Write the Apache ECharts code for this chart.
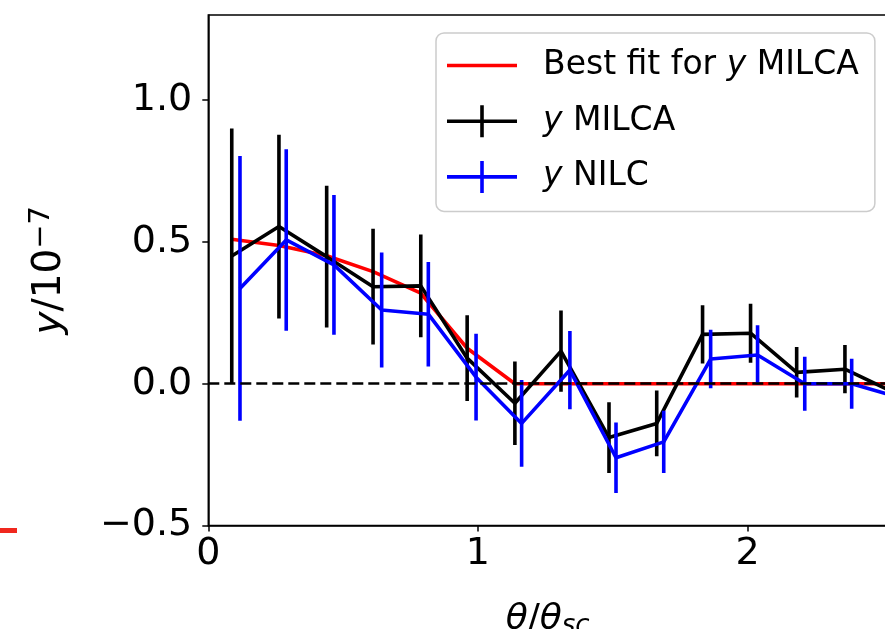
<!DOCTYPE html>
<html>
<head>
<meta charset="utf-8">
<script src="https://cdn.jsdelivr.net/npm/echarts@6/dist/echarts.min.js"></script>
<style>
  html, body { margin: 0; padding: 0; background: #fff; }
  #chart { width: 885px; height: 629px; }
</style>
</head>
<body>
<div id="chart"></div>
<script>
// Radial profile of the y signal in units of 1e-7, versus theta / theta_sc.
const xMilca   = [0.087, 0.262, 0.439, 0.611, 0.788, 0.960, 1.137, 1.308, 1.486, 1.663, 1.833, 2.011, 2.182, 2.361, 2.536];
const yMilca   = [0.450, 0.554, 0.448, 0.342, 0.345, 0.090, -0.069, 0.115, -0.190, -0.140, 0.174, 0.178, 0.040, 0.051, -0.028];
const errMilca = [0.450, 0.324, 0.250, 0.204, 0.181, 0.151, 0.147, 0.143, 0.125, 0.116, 0.103, 0.104, 0.089, 0.085, 0.080];

const xNilc    = [0.1175, 0.289, 0.466, 0.643, 0.816, 0.993, 1.162, 1.341, 1.512, 1.689, 1.863, 2.037, 2.212, 2.386, 2.561];
const yNilc    = [0.336, 0.507, 0.419, 0.260, 0.245, 0.023, -0.140, 0.048, -0.261, -0.205, 0.087, 0.101, 0.000, 0.000, -0.048];
const errNilc  = [0.467, 0.320, 0.246, 0.203, 0.184, 0.153, 0.153, 0.138, 0.124, 0.110, 0.103, 0.105, 0.095, 0.088, 0.080];

// Best-fit model evaluated at the MILCA bin centres
const yFit     = [0.509, 0.487, 0.451, 0.395, 0.319, 0.125, 0, 0, 0, 0, 0, 0, 0, 0, 0];

const xTicks = [0, 1, 2];
const yTicks = [-0.5, 0.0, 0.5, 1.0];

const FONT = 'DejaVu Sans';
const LW = 3.6;
const NAME_FIT = 'Best fit for y MILCA';
const NAME_MILCA = 'y MILCA';
const NAME_NILC = 'y NILC';
const legendText = {
  [NAME_FIT]: 'Best fit for {i|y} MILCA',
  [NAME_MILCA]: '{i|y} MILCA',
  [NAME_NILC]: '{i|y} NILC'
};

function pairs(xs, ys) { return xs.map((x, i) => [x, ys[i]]); }
function triples(xs, ys, es) { return xs.map((x, i) => [x, ys[i], es[i]]); }

function errorBarRenderer(color) {
  return function (params, api) {
    const x = api.value(0), y = api.value(1), e = api.value(2);
    const top = api.coord([x, y + e]);
    const bot = api.coord([x, y - e]);
    return {
      type: 'line',
      shape: { x1: top[0], y1: top[1], x2: bot[0], y2: bot[1] },
      style: { stroke: color, lineWidth: LW }
    };
  };
}

const chart = echarts.init(document.getElementById('chart'), null, { renderer: 'canvas' });

const plusIcon = 'path://M0,14.2H70V17.8H0Z M33.2,0H36.8V32H33.2Z';
const barIcon = 'path://M0,14.2H70V17.8H0Z';

chart.setOption({
  animation: false,
  backgroundColor: '#ffffff',
  textStyle: { fontFamily: FONT },
  grid: {
    left: 208.3, top: 15, right: -2, bottom: 103.5,
    containLabel: false, outerBoundsMode: 'none',
    show: true, borderColor: '#000', borderWidth: 1.5, backgroundColor: 'transparent'
  },
  xAxis: {
    type: 'value', min: 0, max: 2.517,
    axisLine: { show: true, onZero: false, lineStyle: { color: '#000', width: 1.5 } },
    axisTick: { show: true, length: 6, lineStyle: { color: '#000', width: 1.5 }, customValues: xTicks },
    axisLabel: { fontFamily: FONT, fontSize: 38, color: '#000', margin: 10, customValues: xTicks,
                 formatter: v => String(Math.round(v)) },
    splitLine: { show: false },
    name: '{i|θ}/{i|θ}{sub|sc}',
    nameLocation: 'middle', nameGap: 74,
    nameTextStyle: {
      fontFamily: FONT, fontSize: 36, color: '#000',
      rich: {
        i: { fontFamily: FONT, fontSize: 36, fontStyle: 'italic', color: '#000' },
        sub: { fontFamily: FONT, fontSize: 26, fontStyle: 'italic', color: '#000', verticalAlign: 'bottom', padding: [14, 0, 0, 0] }
      }
    }
  },
  yAxis: {
    type: 'value', min: -0.5, max: 1.3,
    axisLine: { show: true, onZero: false, lineStyle: { color: '#000', width: 1.5 } },
    axisTick: { show: true, length: 6, lineStyle: { color: '#000', width: 1.5 }, customValues: yTicks },
    axisLabel: { fontFamily: FONT, fontSize: 38, color: '#000', margin: 16, customValues: yTicks,
                 formatter: v => v.toFixed(1).replace('-', '\u2212') },
    splitLine: { show: false },
    name: '{i|y}/10{sup|\u22127}',
    nameLocation: 'middle', nameRotate: 90, nameGap: 135,
    nameTextStyle: {
      fontFamily: FONT, fontSize: 39, color: '#000',
      rich: {
        i: { fontFamily: FONT, fontSize: 39, fontStyle: 'italic', color: '#000' },
        sup: { fontFamily: FONT, fontSize: 29, color: '#000', verticalAlign: 'top', padding: [0, 0, 17, 0] }
      }
    }
  },
  legend: {
    orient: 'vertical', left: 436, top: 33,
    padding: [16, 16, 18, 11],
    itemWidth: 70, itemHeight: 32, itemGap: 22.7,
    backgroundColor: 'rgba(255,255,255,0.8)', borderColor: '#cccccc', borderWidth: 1.5, borderRadius: 8,
    itemStyle: { borderWidth: 0 },
    symbolKeepAspect: true,
    textStyle: {
      fontFamily: FONT, fontSize: 33, color: '#000', padding: [0, 0, 0, 21],
      rich: { i: { fontFamily: FONT, fontSize: 33, fontStyle: 'italic', color: '#000' } }
    },
    formatter: name => legendText[name],
    data: [
      { name: NAME_FIT, icon: barIcon },
      { name: NAME_MILCA, icon: plusIcon },
      { name: NAME_NILC, icon: plusIcon }
    ]
  },
  series: [
    {
      name: NAME_FIT, type: 'line', data: pairs(xMilca, yFit), z: 2,
      color: '#ff0000', symbol: 'none', clip: true,
      lineStyle: { color: '#ff0000', width: LW },
      markLine: {
        silent: true, symbol: 'none', label: { show: false },
        lineStyle: { color: '#000', width: 2.5, type: [11, 5] },
        data: [{ yAxis: 0 }]
      }
    },
    {
      name: NAME_MILCA, type: 'line', data: pairs(xMilca, yMilca), z: 3,
      color: '#000000', symbol: 'none', clip: true,
      lineStyle: { color: '#000000', width: LW }
    },
    {
      name: NAME_MILCA, type: 'custom', data: triples(xMilca, yMilca, errMilca), z: 3,
      color: '#000000', clip: true, renderItem: errorBarRenderer('#000000')
    },
    {
      name: NAME_NILC, type: 'line', data: pairs(xNilc, yNilc), z: 4,
      color: '#0000ff', symbol: 'none', clip: true,
      lineStyle: { color: '#0000ff', width: LW }
    },
    {
      name: NAME_NILC, type: 'custom', data: triples(xNilc, yNilc, errNilc), z: 4,
      color: '#0000ff', clip: true, renderItem: errorBarRenderer('#0000ff')
    }
  ],
  graphic: [
    { type: 'rect', left: 0, top: 528, shape: { width: 17, height: 5 }, style: { fill: '#f0281e' }, silent: true }
  ]
});
</script>
</body>
</html>
